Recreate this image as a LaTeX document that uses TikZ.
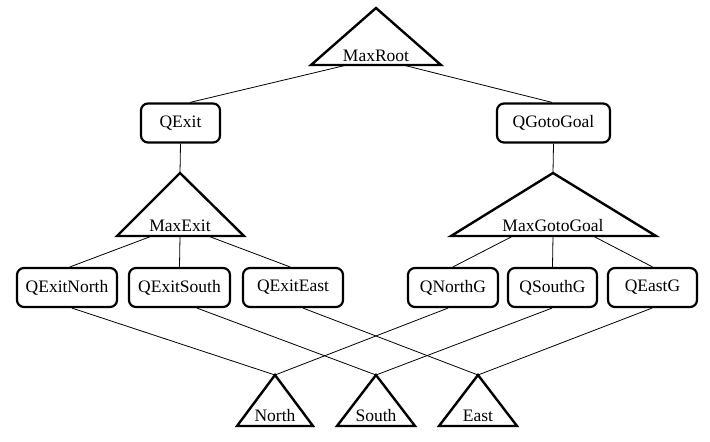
\documentclass[tikz,border=0pt]{standalone}
\usepackage{fontspec}
\setmainfont{Liberation Serif}
\begin{document}
\begin{tikzpicture}[x=1pt,y=-1pt,
  every node/.style={font=\fontsize{17.5}{20}\selectfont},
  qbox/.style={draw,line width=2.2pt,rounded corners=7pt,minimum height=39pt,inner sep=0pt},
  tri/.style={draw,line width=2.4pt,line join=miter},
  lbl/.style={anchor=base,inner sep=0pt},
  edge/.style={line width=0.8pt}]
\useasboundingbox (0,0) rectangle (710,442);
% --- triangles ---
\draw[tri] (376,8) -- (441,65) -- (311,65) -- cycle;
\node[lbl] (MaxRoot) at (376,61) {MaxRoot};
\coordinate (MaxRoot-l) at (347,65);
\coordinate (MaxRoot-r) at (403,65);

\draw[tri] (180,173) -- (244,236) -- (117,236) -- cycle;
\node[lbl] (MaxExit) at (180,231) {MaxExit};
\coordinate (MaxExit-top) at (180,173);
\coordinate (MaxExit-l) at (152,236);
\coordinate (MaxExit-c) at (180,236);
\coordinate (MaxExit-r) at (208,236);

\draw[tri] (553,173) -- (656,236) -- (451,236) -- cycle;
\node[lbl] (MaxGotoGoal) at (553,231) {MaxGotoGoal};
\coordinate (MaxGotoGoal-top) at (553,173);
\coordinate (MaxGotoGoal-l) at (513,236);
\coordinate (MaxGotoGoal-c) at (553,236);
\coordinate (MaxGotoGoal-r) at (593,236);

\draw[tri] (275,375) -- (313,426) -- (237,426) -- cycle;
\node[lbl] (North) at (275,421) {North};
\coordinate (North-top) at (275,375);

\draw[tri] (376,375) -- (415,426) -- (337,426) -- cycle;
\node[lbl] (South) at (376,421) {South};
\coordinate (South-top) at (376,375);

\draw[tri] (478,375) -- (517,426) -- (439,426) -- cycle;
\node[lbl] (East) at (478,421) {East};
\coordinate (East-top) at (478,375);

% --- boxes ---
\node[qbox,minimum width=79pt] (QExit) at (180.5,123) {QExit};
\node[qbox,minimum width=113pt] (QGotoGoal) at (553.5,123) {QGotoGoal};
\node[qbox,minimum width=100pt] (QExitNorth) at (67,287.5) {QExitNorth};
\node[qbox,minimum width=101pt] (QExitSouth) at (179.5,287.5) {QExitSouth};
\node[qbox,minimum width=100pt] (QExitEast) at (293,287.5) {QExitEast};
\node[qbox,minimum width=90pt] (QNorthG) at (453,287.5) {QNorthG};
\node[qbox,minimum width=89pt] (QSouthG) at (552.5,287.5) {QSouthG};
\node[qbox,minimum width=89pt] (QEastG) at (652.5,287.5) {QEastG};

% --- edges ---
\draw[edge] (MaxRoot-l) -- ([xshift=9.5pt]QExit.north);
\draw[edge] (MaxRoot-r) -- ([xshift=-1.5pt]QGotoGoal.north);
\draw[edge] (QExit.south) -- (MaxExit-top);
\draw[edge] (QGotoGoal.south) -- (MaxGotoGoal-top);
\draw[edge] (MaxExit-l) -- ([xshift=3pt]QExitNorth.north);
\draw[edge] (MaxExit-c) -- (QExitSouth.north);
\draw[edge] (MaxExit-r) -- ([xshift=-3pt]QExitEast.north);
\draw[edge] (MaxGotoGoal-l) -- (QNorthG.north);
\draw[edge] (MaxGotoGoal-c) -- (QSouthG.north);
\draw[edge] (MaxGotoGoal-r) -- (QEastG.north);
\draw[edge] ([xshift=5pt]QExitNorth.south) -- (North-top);
\draw[edge] ([xshift=17.5pt]QExitSouth.south) -- (South-top);
\draw[edge] ([xshift=10pt]QExitEast.south) -- (East-top);
\draw[edge] ([xshift=-5pt]QNorthG.south) -- (North-top);
\draw[edge] ([xshift=-0.5pt]QSouthG.south) -- (South-top);
\draw[edge] ([xshift=-0.5pt]QEastG.south) -- (East-top);
\end{tikzpicture}
\end{document}
